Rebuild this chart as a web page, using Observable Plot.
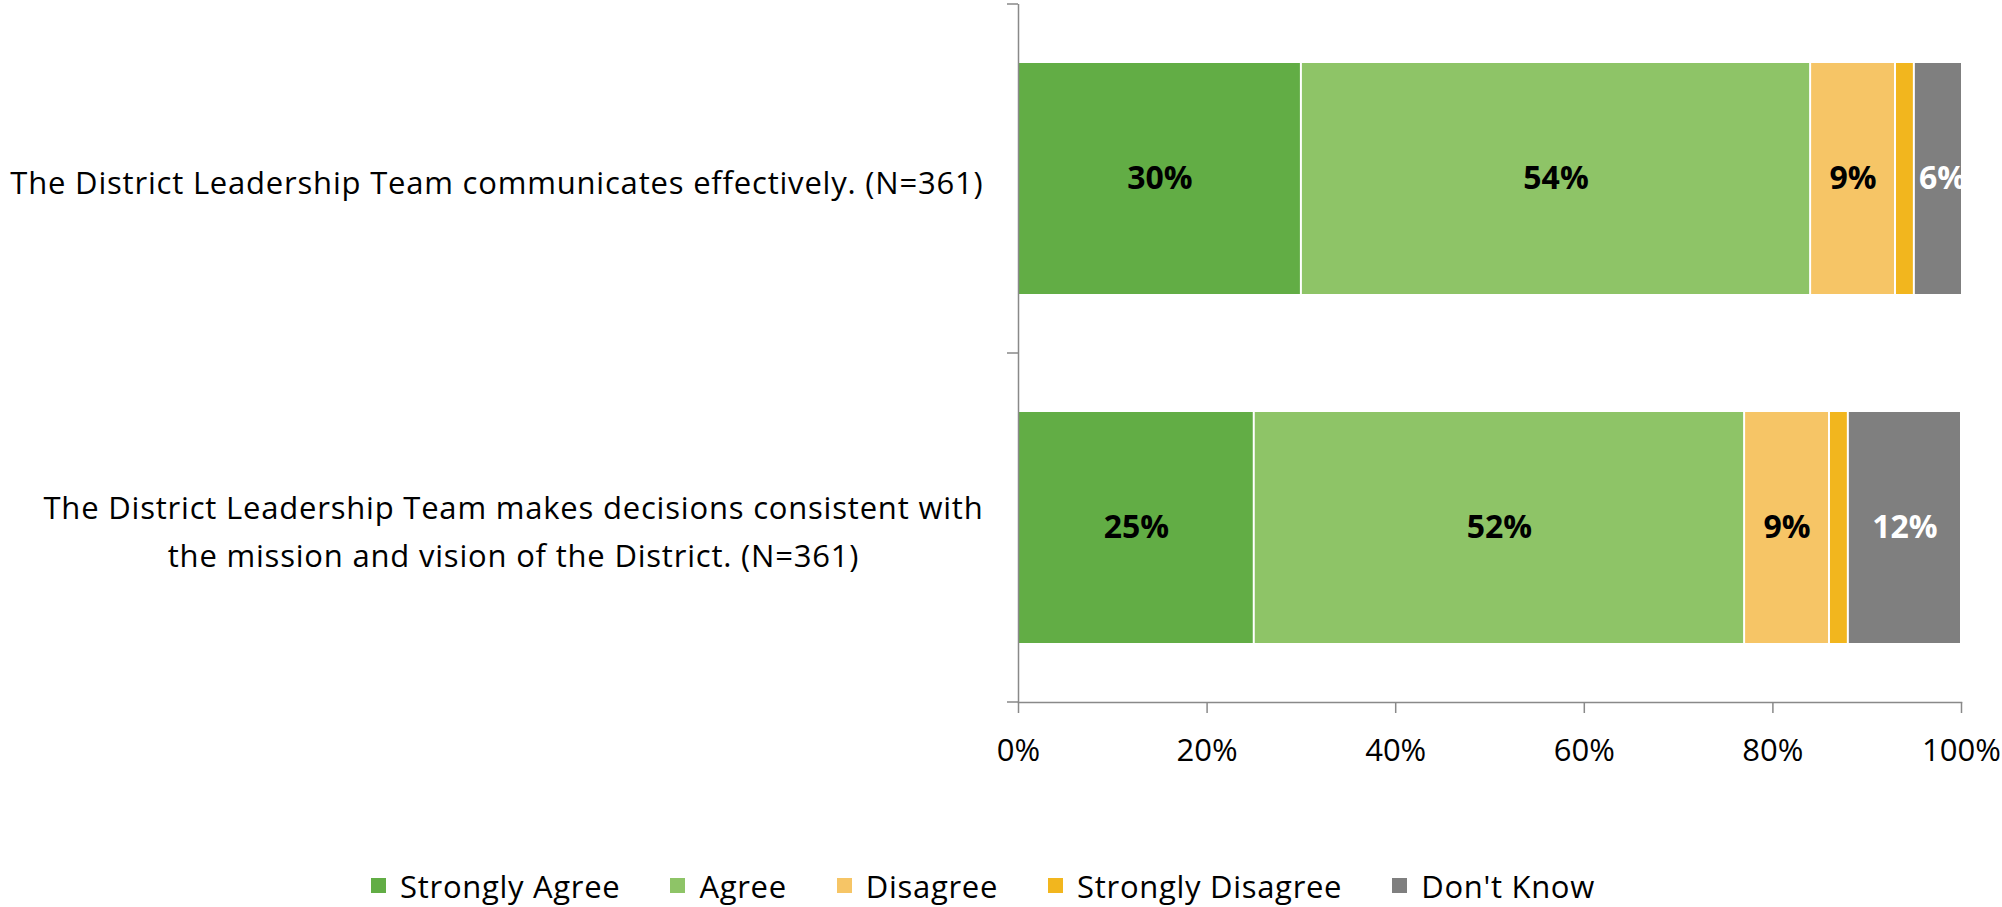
<!DOCTYPE html>
<html><head><meta charset="utf-8">
<script src="https://cdn.jsdelivr.net/npm/d3@7"></script>
<script src="https://cdn.jsdelivr.net/npm/@observablehq/plot@0.6"></script>
<style>
body{margin:0;background:#fff;font-family:"Open Sans",sans-serif;}
#legend{display:flex;justify-content:center;align-items:center;height:57px;font-size:31px;letter-spacing:0.7px;color:#000;margin-left:-36px;margin-top:7px;}
#legend .item{display:flex;align-items:center;margin:0 25px;}
#legend .sw{width:15px;height:15px;margin-right:14px;}
g[aria-description="category-labels"] text{letter-spacing:0.8px;}
</style></head><body><div id="chart"></div><div id="legend"></div>
<script>
const categories = [
  "The District Leadership Team communicates effectively. (N=361)",
  "The District Leadership Team makes decisions consistent with\nthe mission and vision of the District. (N=361)"
];
const series = ["Strongly Agree", "Agree", "Disagree", "Strongly Disagree", "Don't Know"];
const colors = ["#62ad45", "#8ec467", "#f6c566", "#f2b61e", "#7f7f7f"];
const stronglyAgree = [30, 25];
const agree = [54, 52];
const disagree = [9, 9];
const stronglyDisagree = [2, 2];
const dontKnow = [6, 12];
const xTicks = [0, 20, 40, 60, 80, 100];
const labelSeriesDark = ["Strongly Agree", "Agree", "Disagree"];
const labelSeriesLight = ["Don't Know"];

(function () {
const valuesBySeries = [stronglyAgree, agree, disagree, stronglyDisagree, dontKnow];
const rows = [];
categories.forEach((c, i) => series.forEach((s, j) => rows.push({category: c, series: s, value: valuesBySeries[j][i]})));

const axisColor = "#898989";
const W = 2002, H = 850, mT = 4, mB = 148, mL = 1018, mR = 41;

const plot = Plot.plot({
  width: W, height: H,
  marginLeft: mL, marginRight: mR, marginTop: mT, marginBottom: mB,
  style: {fontFamily: "'Open Sans', sans-serif", fontSize: "31px", color: "#000", background: "#fff"},
  x: {domain: [0, 100], axis: null},
  y: {domain: categories, paddingInner: 0.338, paddingOuter: 0.169, axis: null},
  color: {domain: series, range: colors},
  marks: [
    Plot.barX(rows, Plot.stackX({x: "value", y: "category", fill: "series", insetLeft: 1, insetRight: 1, clip: true})),
    Plot.text(rows, Plot.stackX({x: "value", y: "category", text: d => labelSeriesDark.includes(d.series) ? d.value + "%" : null, fill: "black", fontWeight: "bold", fontSize: 32, clip: true})),
    Plot.text(rows, Plot.stackX({x: "value", y: "category", text: d => labelSeriesLight.includes(d.series) ? d.value + "%" : null, fill: "white", fontWeight: "bold", fontSize: 32, clip: true})),
    Plot.ruleX([0], {stroke: axisColor, strokeWidth: 1.5}),
    Plot.frame({anchor: "bottom", stroke: axisColor, strokeWidth: 1.5}),
    Plot.axisX({ticks: xTicks, tickSize: 11, tickPadding: 25, tickFormat: d => d + "%", stroke: axisColor, strokeWidth: 1.5, fill: "black", fontSize: 31, label: null}),
    Plot.text(categories, {y: d => d, text: d => d, frameAnchor: "left", dx: -35, textAnchor: "end", lineHeight: 1.55, fontSize: 31, fill: "black", ariaDescription: "category-labels"})
  ]
});
document.getElementById("chart").appendChild(plot);

// y-axis tick marks at band boundaries (Excel category axis style)
const ys = plot.scale("y");
const bw = ys.bandwidth;
const starts = categories.map(c => ys.apply(c));
const bounds = [mT];
for (let i = 1; i < starts.length; i++) bounds.push((starts[i - 1] + bw + starts[i]) / 2);
bounds.push(H - mB);
d3.select(plot).append("g").selectAll("line").data(bounds).join("line")
  .attr("x1", mL - 11).attr("x2", mL).attr("y1", d => d).attr("y2", d => d)
  .attr("stroke", axisColor).attr("stroke-width", 1.5);

// center lines of each category label within its right-aligned block
function centerLabels() {
  plot.querySelectorAll('g[aria-description="category-labels"] text').forEach(t => {
    t.setAttribute("text-anchor", "end"); t.setAttribute("x", 0);
    t.querySelectorAll("tspan").forEach(ts => ts.setAttribute("x", 0));
    const w = t.getBBox().width;
    t.setAttribute("text-anchor", "middle");
    t.setAttribute("x", -w / 2);
    t.querySelectorAll("tspan").forEach(ts => ts.setAttribute("x", -w / 2));
  });
}
centerLabels();
if (document.fonts && document.fonts.ready) document.fonts.ready.then(centerLabels);

// legend
const legend = d3.select("#legend");
series.forEach((s, i) => {
  const it = legend.append("div").attr("class", "item");
  it.append("div").attr("class", "sw").style("background", colors[i]);
  it.append("span").text(s);
});
})();
</script></body></html>
